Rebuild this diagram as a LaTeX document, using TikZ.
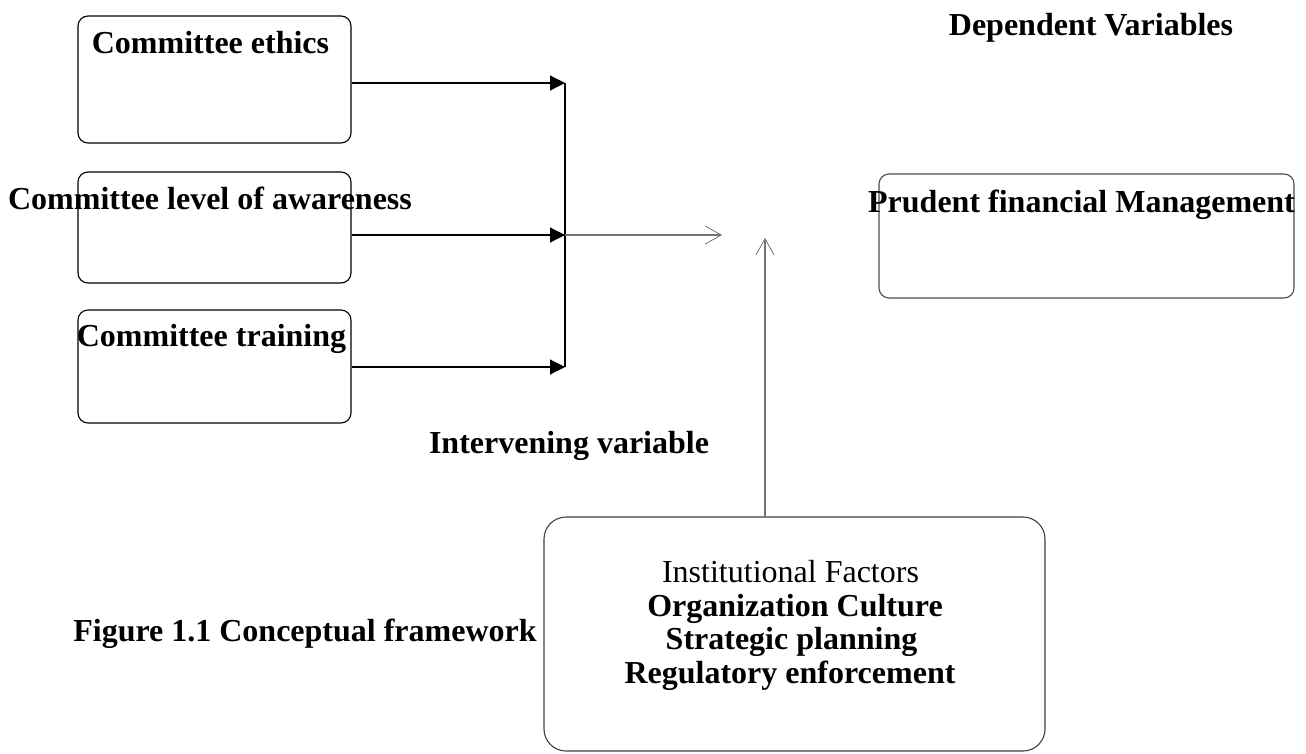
\documentclass[tikz,border=0pt]{standalone}
\usepackage{fontspec}
\setmainfont{Liberation Serif}
\usetikzlibrary{arrows.meta}
\tikzset{
  box/.style={draw=black, line width=1.1pt, rounded corners=10pt, inner sep=0pt},
  bigbox/.style={draw=black!75, line width=1.1pt, rounded corners=22pt, inner sep=0pt},
  lbl/.style={anchor=base, inner sep=0pt, font=\fontsize{32}{34}\selectfont\bfseries},
  feed/.style={draw=black, line width=1.1pt, -{Triangle[length=15pt,width=15pt]}},
  bar/.style={draw=black, line width=1.3pt},
  soft/.style={draw=black!55, line width=1.1pt, -{Straight Barb[length=16pt,width=18pt,line width=0.8pt]}},
}
\begin{document}
\begin{tikzpicture}[x=1pt,y=-1pt]
\useasboundingbox[fill=white] (0,0) rectangle (1306,753);
% boxes
\node[box, minimum width=273pt, minimum height=127pt] (b1) at (214.5,79.5) {};
\node[box, minimum width=273pt, minimum height=111pt] (b2) at (214.5,227.5) {};
\node[box, minimum width=273pt, minimum height=113pt] (b3) at (214.5,366.5) {};
\node[box, draw=black!70, minimum width=415pt, minimum height=124pt] (dv) at (1086.5,236) {};
\node[bigbox, minimum width=501pt, minimum height=234pt] (iv) at (794.5,634) {};
% labels
\node[lbl] (t1) at (210.5,53) {Committee ethics};
\node[lbl] (t2) at (210,209) {Committee level of awareness};
\node[lbl] (t3) at (211.5,346) {Committee training};
\node[lbl] (t4) at (1081.5,212) {Prudent financial Management};
\node[lbl] (t5) at (1091,35) {Dependent Variables};
\node[lbl] (t6) at (569,453) {Intervening variable};
\node[lbl] (t7) at (305,641) {Figure 1.1 Conceptual framework};
\node[lbl, font=\fontsize{32}{34}\selectfont] (f0) at (790.5,582) {Institutional Factors};
\node[lbl] (f1) at (795,616) {Organization Culture};
\node[lbl] (f2) at (791.5,649.5) {Strategic planning};
\node[lbl] (f3) at (790,683) {Regulatory enforcement};
% junction coordinates
\coordinate (j1) at (565,83);
\coordinate (j2) at (565,235);
\coordinate (j3) at (565,367);
\coordinate (m) at (722,235);
\coordinate (u) at (765,238);
% connectors
\draw[feed] (b1.east |- j1) -- (j1);
\draw[feed] (b2.east |- j2) -- (j2);
\draw[feed] (b3.east |- j3) -- (j3);
\draw[bar] (j1) -- (j3);
\draw[soft] (j2) -- (m);
\draw[soft] (iv.north -| u) -- (u);
\end{tikzpicture}
\end{document}
